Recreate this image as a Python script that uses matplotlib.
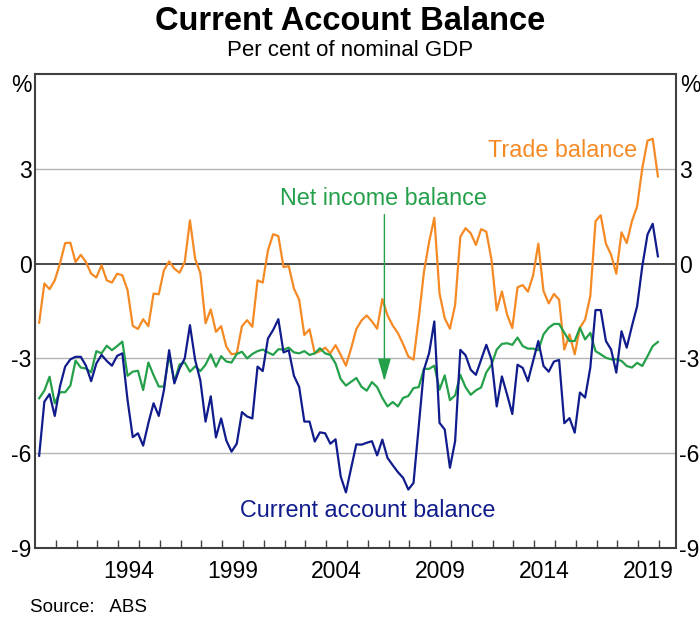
import matplotlib
matplotlib.use("Agg")
import matplotlib.pyplot as plt
import pandas as pd
import numpy as np

plt.rcParams['font.family'] = ['Liberation Sans', 'DejaVu Sans']

quarters = pd.period_range('1990Q1', '2019Q4', freq='Q')

trade_balance = [
    -1.87, -0.63, -0.81, -0.53, 0.00, 0.65, 0.66, 0.05, 0.28, 0.05,
    -0.32, -0.44, -0.05, -0.53, -0.60, -0.32, -0.37, -0.84, -1.97, -2.07,
    -1.76, -1.98, -0.95, -0.97, -0.21, 0.07, -0.16, -0.29, 0.05, 1.37,
    0.15, -0.30, -1.89, -1.45, -2.16, -1.98, -2.63, -2.87, -2.84, -1.98,
    -1.79, -2.00, -0.53, -0.60, 0.42, 0.93, 0.87, -0.11, -0.08, -0.79,
    -1.14, -2.26, -2.08, -2.84, -2.77, -2.66, -2.84, -2.58, -2.89, -3.23,
    -2.68, -2.07, -1.80, -1.64, -1.83, -2.06, -1.12, -1.64, -1.96, -2.20,
    -2.55, -2.94, -3.04, -1.73, -0.27, 0.69, 1.45, -0.94, -1.73, -2.06,
    -1.31, 0.85, 1.12, 0.96, 0.59, 1.09, 1.01, 0.12, -1.48, -0.88,
    -1.62, -2.04, -0.75, -0.68, -0.89, -0.37, 0.63, -0.87, -1.26, -0.96,
    -1.14, -2.72, -2.24, -2.87, -2.03, -1.77, -1.03, 1.34, 1.53, 0.63,
    0.28, -0.32, 0.99, 0.65, 1.34, 1.81, 3.02, 3.89, 3.95, 2.76,
]

net_income_balance = [
    -4.26, -4.02, -3.58, -4.42, -4.07, -4.07, -3.86, -3.07, -3.29, -3.32,
    -3.44, -2.77, -2.84, -2.60, -2.74, -2.61, -2.47, -3.55, -3.42, -3.39,
    -4.00, -3.13, -3.53, -3.89, -3.89, -2.89, -3.74, -3.19, -3.13, -3.42,
    -3.25, -3.40, -3.20, -2.87, -3.26, -2.93, -3.10, -3.13, -2.86, -2.79,
    -3.00, -2.86, -2.77, -2.72, -2.81, -2.89, -2.71, -2.72, -2.66, -2.81,
    -2.84, -2.77, -2.89, -2.84, -2.68, -2.84, -2.89, -3.16, -3.66, -3.86,
    -3.74, -3.62, -3.90, -4.02, -3.75, -3.91, -4.25, -4.52, -4.38, -4.52,
    -4.25, -4.19, -3.94, -3.91, -3.33, -3.33, -3.23, -3.99, -3.54, -4.32,
    -4.17, -3.52, -3.91, -4.15, -4.01, -3.92, -3.44, -3.20, -2.72, -2.54,
    -2.52, -2.57, -2.34, -2.61, -2.69, -2.69, -2.74, -2.24, -2.03, -1.91,
    -1.91, -2.19, -2.45, -2.45, -2.03, -2.40, -2.19, -2.77, -2.87, -2.98,
    -3.03, -3.03, -3.08, -3.24, -3.29, -3.14, -3.24, -2.93, -2.61, -2.48,
]

current_account_balance = [
    -6.08, -4.37, -4.13, -4.82, -3.89, -3.26, -3.03, -2.95, -2.95, -3.23,
    -3.72, -3.16, -2.89, -3.08, -3.23, -2.92, -2.84, -4.32, -5.49, -5.37,
    -5.76, -5.05, -4.42, -4.82, -4.00, -2.74, -3.79, -3.32, -3.00, -1.95,
    -3.05, -3.70, -5.00, -4.20, -5.50, -4.90, -5.60, -5.95, -5.70, -4.70,
    -4.84, -4.90, -3.26, -3.40, -2.37, -2.10, -1.76, -2.81, -2.74, -3.55,
    -3.90, -5.00, -5.00, -5.63, -5.34, -5.37, -5.70, -5.56, -6.74, -7.24,
    -6.47, -5.72, -5.73, -5.67, -5.62, -6.07, -5.57, -6.15, -6.38, -6.60,
    -6.78, -7.15, -6.94, -5.15, -3.36, -2.83, -1.83, -5.04, -5.25, -6.46,
    -5.62, -2.73, -2.90, -3.36, -3.52, -3.04, -2.57, -3.04, -4.52, -3.57,
    -4.15, -4.76, -3.20, -3.30, -3.72, -3.08, -2.45, -3.24, -3.42, -3.10,
    -3.05, -5.05, -4.89, -5.35, -4.08, -4.24, -3.29, -1.47, -1.47, -2.45,
    -2.72, -3.45, -2.14, -2.66, -1.98, -1.35, -0.08, 0.92, 1.26, 0.23,
]

year_labels = [1994, 1999, 2004, 2009, 2014, 2019]
y_ticks = [3, 0, -3, -6, -9]

ORANGE = '#F58A25'
GREEN = '#24A04A'
NAVY = '#101C8C'

x = np.array([p.year + (p.quarter - 0.2) / 4 for p in quarters])

fig = plt.figure(figsize=(7.0, 6.22), dpi=100)
ax = fig.add_axes([35 / 700, 1 - 548 / 622, (676 - 35) / 700, (548 - 74) / 622])

ax.set_xlim(1990, 2020.82)
ax.set_ylim(-9, 6)

for v in [3, -3, -6]:
    ax.axhline(v, color='#b4b4b4', lw=1.0, zorder=1)
ax.axhline(0, color='#3a3a3a', lw=1.3, zorder=1)

ax.plot(x, trade_balance, color=ORANGE, lw=1.6, zorder=3)
ax.plot(x, net_income_balance, color=GREEN, lw=1.6, zorder=3)
ax.plot(x, current_account_balance, color=NAVY, lw=1.6, zorder=4)

for s in ax.spines.values():
    s.set_color('#404040')
    s.set_linewidth(1.5)

# x ticks: yearly marks, labels centred on the year
ax.set_xticks(np.arange(1991, 2021))
ax.set_xticklabels([])
ax.tick_params(axis='x', which='major', direction='in', length=6, width=1.0, color='#404040')
ax.set_xticks([y + 0.5 for y in year_labels], minor=True)
ax.set_xticklabels([str(y) for y in year_labels], minor=True)
ax.tick_params(axis='x', which='minor', length=0, pad=9, labelsize=16.5)

ax.set_yticks(y_ticks)
ax.set_yticklabels([str(v) for v in y_ticks])
ax.tick_params(axis='y', which='both', length=0, pad=2.5, labelsize=16.5,
               left=True, right=True, labelleft=True, labelright=True)

ax.text(-0.006, 0.975, '%', transform=ax.transAxes, ha='right', va='center', fontsize=16.5)
ax.text(1.006, 0.975, '%', transform=ax.transAxes, ha='left', va='center', fontsize=16.5)

ax.text(2018.95, 3.58, 'Trade balance', color=ORANGE, fontsize=16.8, ha='right', va='center')
ax.text(2006.75, 2.06, 'Net income balance', color=GREEN, fontsize=16.8, ha='center', va='center')
ax.text(2006.0, -7.82, 'Current account balance', color=NAVY, fontsize=16.8, ha='center', va='center')

ax.annotate('', xy=(2006.8, -3.72), xytext=(2006.8, 1.55),
            arrowprops=dict(arrowstyle='-|>,head_length=1.4,head_width=0.4',
                            color=GREEN, lw=1.0, shrinkA=0, shrinkB=0))

fig.text(0.5, 1 - 21 / 622, 'Current Account Balance', ha='center', va='center',
         fontsize=23.5, fontweight='bold')
fig.text(0.5, 1 - 50 / 622, 'Per cent of nominal GDP', ha='center', va='center', fontsize=16)
fig.text(30 / 700, 1 - 607 / 622, 'Source:   ABS', ha='left', va='center', fontsize=13.5)

fig.savefig('out.png', dpi=100, facecolor='white')
